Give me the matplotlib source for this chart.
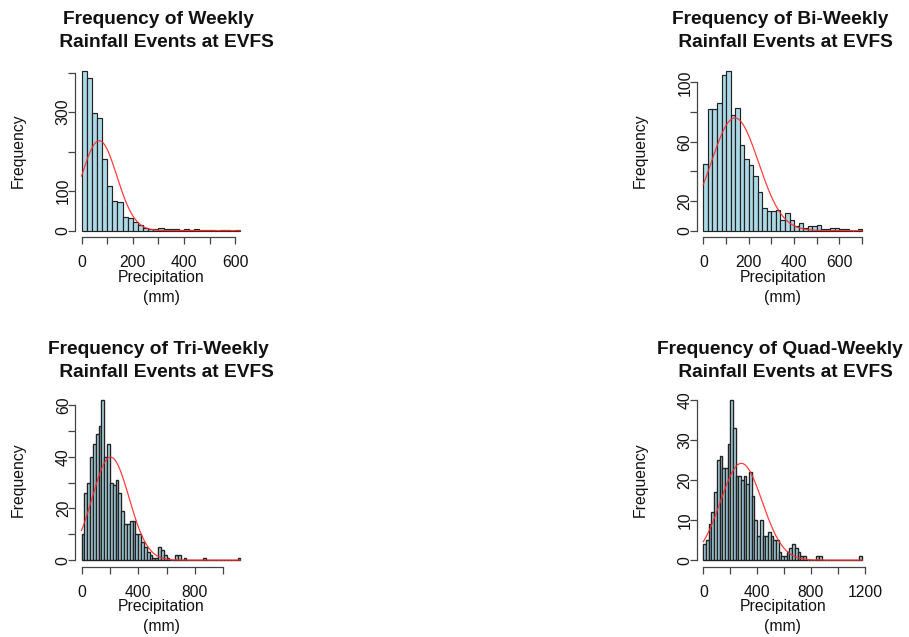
import numpy as np
import matplotlib
matplotlib.use("Agg")
import matplotlib.pyplot as plt

plt.rcParams['font.family'] = ['Liberation Sans', 'DejaVu Sans']

# ---------------- data ----------------
titles = [
    ["Frequency of Weekly", " Rainfall Events at EVFS"],
    ["Frequency of Bi-Weekly", " Rainfall Events at EVFS"],
    ["Frequency of Tri-Weekly", " Rainfall Events at EVFS"],
    ["Frequency of Quad-Weekly", " Rainfall Events at EVFS"],
]
x_label = ["Precipitation", "(mm)"]
y_label = "Frequency"

bin_start = 0
bin_width = 20

weekly_counts = [405, 386, 297, 286, 180, 114, 76, 73, 35, 31, 21, 15, 7, 4, 5, 6,
                 5, 3, 3, 2, 3, 2, 3, 1, 1, 1, 0, 1, 1, 0, 1]
biweekly_counts = [45, 82, 82, 86, 105, 108, 78, 83, 58, 48, 44, 37, 26, 15, 13, 13,
                   14, 7, 12, 7, 3, 5, 2, 3, 3, 4, 1, 1, 2, 2, 1, 1, 0, 0, 1]
triweekly_counts = [10, 26, 30, 40, 45, 49, 52, 62, 40, 45, 30, 29, 31, 26, 19, 14,
                    14, 15, 15, 10, 10, 7, 5, 3, 2, 1, 1, 5, 4, 2, 1, 0, 0, 2, 2, 0,
                    1, 0, 0, 0, 0, 0, 0, 1, 0, 0, 0, 0, 0, 0, 0, 0, 0, 0, 0, 1]
quadweekly_counts = [4, 5, 9, 12, 17, 25, 26, 23, 23, 29, 40, 33, 21, 21, 20, 21,
                     19, 22, 16, 10, 6, 10, 6, 6, 7, 6, 5, 5, 2, 1, 1, 2, 3, 4, 3, 2,
                     1, 1, 0, 0, 0, 0, 1, 1, 0, 0, 0, 0, 0, 0, 0, 0, 0, 0, 0, 0, 0, 0, 1]
all_counts = [weekly_counts, biweekly_counts, triweekly_counts, quadweekly_counts]

# fitted normal curves (mean, sd in mm)
curve_means = [69, 139, 205, 282]
curve_sds = [69, 104, 130, 155]

x_ticks = [[0, 100, 200, 300, 400, 500, 600],
           [0, 100, 200, 300, 400, 500, 600, 700],
           [0, 200, 400, 600, 800, 1000],
           [0, 200, 400, 600, 800, 1000, 1200]]
x_tick_labels = [["0", "", "200", "", "400", "", "600"],
                 ["0", "", "200", "", "400", "", "600", ""],
                 ["0", "", "400", "", "800", ""],
                 ["0", "", "400", "", "800", "", "1200"]]
y_ticks = [[0, 100, 200, 300, 400],
           [0, 20, 40, 60, 80, 100],
           [0, 10, 20, 30, 40, 50, 60],
           [0, 10, 20, 30, 40]]
y_tick_labels = [["0", "100", "", "300", ""],
                 ["0", "20", "", "60", "", "100"],
                 ["0", "", "20", "", "40", "", "60"],
                 ["0", "10", "20", "30", "40"]]

# ---------------- layout ----------------
W, H = 909, 637
fig = plt.figure(figsize=(W / 100, H / 100), dpi=100)
fig.patch.set_facecolor("white")

def fx(px):
    return px / W

def fy(py):
    return 1 - py / H

box_w, box_h = 171.5, 172.8
lefts = [75.2, 697.0, 75.2, 697.0]
tops = [64.2, 64.2, 393.7, 393.7]
title2_shift = [2.5, 0.5, 2.5, 0.5]
edge_widths = [0.85, 0.85, 1.0, 1.0]

bar_color = "#ADD8E6"
edge_color = "#222222"
axis_color = "#444444"
fs = 11.3
title_fs = 13.8

for i in range(4):
    counts = np.array(all_counts[i], dtype=float)
    edges = bin_start + bin_width * np.arange(len(counts) + 1)
    lo, hi = edges[0], edges[-1]
    ymax = counts.max()

    L, T = lefts[i], tops[i]
    ax = fig.add_axes([fx(L), fy(T + box_h), box_w / W, box_h / H])
    ax.set_facecolor("white")

    ax.bar(edges[:-1], counts, width=bin_width, align="edge",
           color=bar_color, edgecolor=edge_color, linewidth=edge_widths[i])

    n = counts.sum()
    xs = np.linspace(lo, hi, 400)
    m, s = curve_means[i], curve_sds[i]
    ys = n * bin_width * np.exp(-0.5 * ((xs - m) / s) ** 2) / (s * np.sqrt(2 * np.pi))
    ax.plot(xs, ys, color="#ff2a2a", linewidth=0.9, alpha=0.9)

    rx = hi - lo
    ax.set_xlim(lo - 0.04 * rx, hi + 0.04 * rx)
    ax.set_ylim(-0.04 * ymax, 1.04 * ymax)

    for side in ["top", "right"]:
        ax.spines[side].set_visible(False)
    for side in ["left", "bottom"]:
        ax.spines[side].set_color(axis_color)
        ax.spines[side].set_linewidth(0.9)
    ax.spines["bottom"].set_bounds(x_ticks[i][0], x_ticks[i][-1])
    ax.spines["left"].set_bounds(y_ticks[i][0], y_ticks[i][-1])

    ax.set_xticks(x_ticks[i])
    ax.set_xticklabels(x_tick_labels[i])
    ax.set_yticks(y_ticks[i])
    ax.set_yticklabels(y_tick_labels[i])
    ax.tick_params(axis="both", length=5.2, width=0.9, color=axis_color,
                   labelsize=fs, labelcolor="#111111")
    ax.tick_params(axis="x", pad=7.8)
    ax.tick_params(axis="y", pad=-2.0)
    for lab in ax.get_yticklabels():
        lab.set_rotation(90)
        lab.set_va("center")
        lab.set_ha("right")

    cx = L + box_w / 2
    # title (two lines)
    fig.text(fx(cx - 3), fy(T - 40), titles[i][0], ha="center", va="baseline",
             fontsize=title_fs, fontweight="bold", color="#111111")
    fig.text(fx(cx + title2_shift[i]), fy(T - 17), titles[i][1], ha="center",
             va="baseline", fontsize=title_fs, fontweight="bold", color="#111111")
    # x label
    B = T + box_h
    fig.text(fx(cx), fy(B + 45), x_label[0], ha="center", va="baseline",
             fontsize=fs, color="#111111")
    fig.text(fx(cx), fy(B + 65), x_label[1], ha="center", va="baseline",
             fontsize=fs, color="#111111")
    # y label
    fig.text(fx(L - 57), fy(T + box_h / 2), y_label, ha="center", va="center",
             rotation=90, fontsize=fs, color="#111111")

fig.savefig("out.png", dpi=100, facecolor="white")
